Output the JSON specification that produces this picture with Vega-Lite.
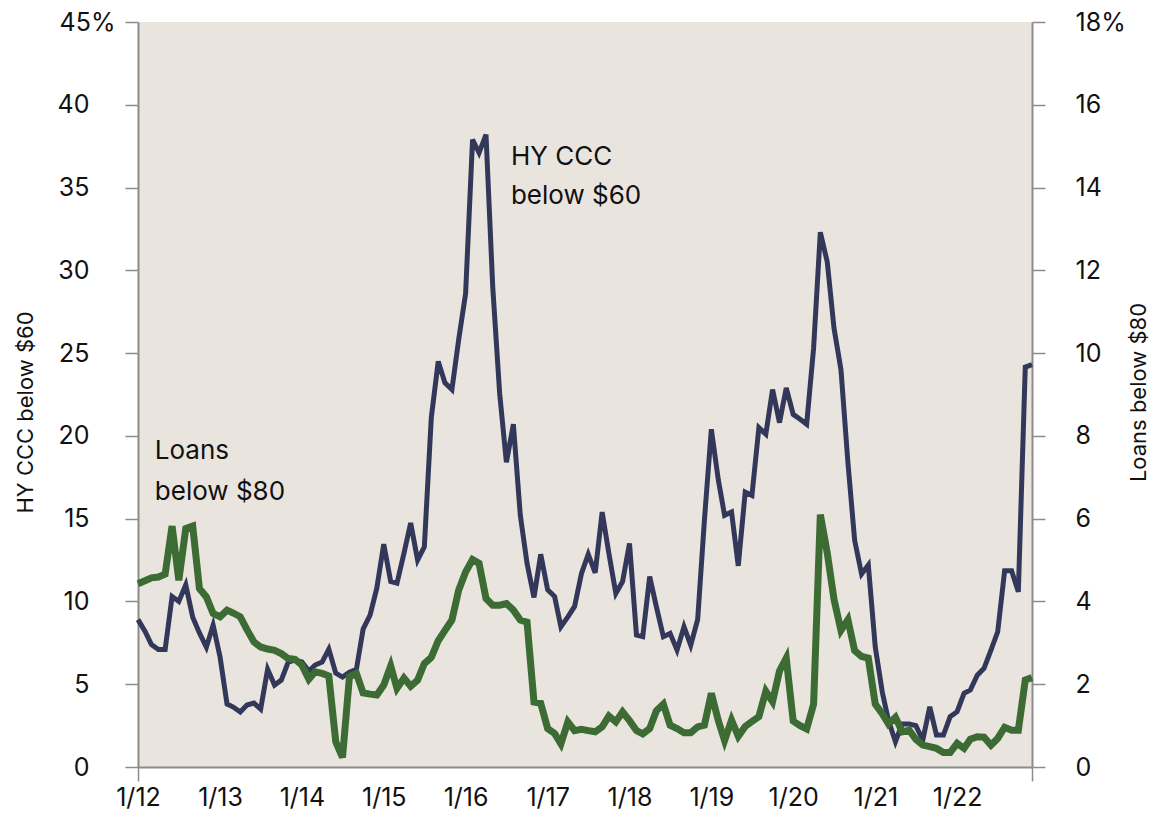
{
  "$schema": "https://vega.github.io/schema/vega-lite/v6.json",
  "width": 894,
  "height": 745,
  "autosize": {"type": "none"},
  "padding": {"left": 138, "top": 22, "right": 121, "bottom": 53},
  "background": "white",
  "config": {
    "view": {"fill": "#e9e5de", "stroke": null},
    "font": "Inter",
    "axis": {"grid": false, "domainColor": "#8c8c8c", "domainWidth": 2, "tickColor": "#8c8c8c", "tickWidth": 1.5, "labelColor": "#111111", "labelFont": "Inter", "labelFontSize": 25, "titleFont": "Inter", "titleColor": "#111111", "titleFontWeight": "normal", "titleFontSize": 22}
  },
  "datasets": {
    "series": [
      {"date": "2012-01-01", "hy": 8.9, "loans": 4.43},
      {"date": "2012-02-01", "hy": 8.2, "loans": 4.5},
      {"date": "2012-03-01", "hy": 7.4, "loans": 4.57},
      {"date": "2012-04-01", "hy": 7.1, "loans": 4.59},
      {"date": "2012-05-01", "hy": 7.1, "loans": 4.66},
      {"date": "2012-06-01", "hy": 10.3, "loans": 5.82},
      {"date": "2012-07-01", "hy": 10.0, "loans": 4.51},
      {"date": "2012-08-01", "hy": 11.0, "loans": 5.76},
      {"date": "2012-09-01", "hy": 9.05, "loans": 5.82},
      {"date": "2012-10-01", "hy": 8.1, "loans": 4.31},
      {"date": "2012-11-01", "hy": 7.24, "loans": 4.11},
      {"date": "2012-12-01", "hy": 8.57, "loans": 3.71},
      {"date": "2013-01-01", "hy": 6.64, "loans": 3.63},
      {"date": "2013-02-01", "hy": 3.8, "loans": 3.79},
      {"date": "2013-03-01", "hy": 3.62, "loans": 3.72},
      {"date": "2013-04-01", "hy": 3.32, "loans": 3.63},
      {"date": "2013-05-01", "hy": 3.74, "loans": 3.32},
      {"date": "2013-06-01", "hy": 3.86, "loans": 3.02},
      {"date": "2013-07-01", "hy": 3.5, "loans": 2.9},
      {"date": "2013-08-01", "hy": 5.9, "loans": 2.85},
      {"date": "2013-09-01", "hy": 4.95, "loans": 2.82},
      {"date": "2013-10-01", "hy": 5.25, "loans": 2.74},
      {"date": "2013-11-01", "hy": 6.34, "loans": 2.62},
      {"date": "2013-12-01", "hy": 6.46, "loans": 2.6},
      {"date": "2014-01-01", "hy": 6.34, "loans": 2.46},
      {"date": "2014-02-01", "hy": 5.8, "loans": 2.12},
      {"date": "2014-03-01", "hy": 6.16, "loans": 2.3},
      {"date": "2014-04-01", "hy": 6.34, "loans": 2.26},
      {"date": "2014-05-01", "hy": 7.12, "loans": 2.2},
      {"date": "2014-06-01", "hy": 5.67, "loans": 0.61},
      {"date": "2014-07-01", "hy": 5.43, "loans": 0.23},
      {"date": "2014-08-01", "hy": 5.73, "loans": 2.18},
      {"date": "2014-09-01", "hy": 5.9, "loans": 2.26},
      {"date": "2014-10-01", "hy": 8.33, "loans": 1.79},
      {"date": "2014-11-01", "hy": 9.17, "loans": 1.76},
      {"date": "2014-12-01", "hy": 10.8, "loans": 1.74},
      {"date": "2015-01-01", "hy": 13.46, "loans": 1.98},
      {"date": "2015-02-01", "hy": 11.2, "loans": 2.44},
      {"date": "2015-03-01", "hy": 11.1, "loans": 1.9},
      {"date": "2015-04-01", "hy": 12.9, "loans": 2.15},
      {"date": "2015-05-01", "hy": 14.74, "loans": 1.95},
      {"date": "2015-06-01", "hy": 12.5, "loans": 2.1},
      {"date": "2015-07-01", "hy": 13.3, "loans": 2.5},
      {"date": "2015-08-01", "hy": 21.1, "loans": 2.65},
      {"date": "2015-09-01", "hy": 24.5, "loans": 3.05},
      {"date": "2015-10-01", "hy": 23.2, "loans": 3.3},
      {"date": "2015-11-01", "hy": 22.8, "loans": 3.55},
      {"date": "2015-12-01", "hy": 25.8, "loans": 4.27},
      {"date": "2016-01-01", "hy": 28.6, "loans": 4.71},
      {"date": "2016-02-01", "hy": 37.9, "loans": 5.01},
      {"date": "2016-03-01", "hy": 37.1, "loans": 4.92},
      {"date": "2016-04-01", "hy": 38.2, "loans": 4.07},
      {"date": "2016-05-01", "hy": 29.0, "loans": 3.91},
      {"date": "2016-06-01", "hy": 22.55, "loans": 3.91},
      {"date": "2016-07-01", "hy": 18.4, "loans": 3.95},
      {"date": "2016-08-01", "hy": 20.7, "loans": 3.79},
      {"date": "2016-09-01", "hy": 15.2, "loans": 3.55},
      {"date": "2016-10-01", "hy": 12.3, "loans": 3.5},
      {"date": "2016-11-01", "hy": 10.24, "loans": 1.57},
      {"date": "2016-12-01", "hy": 12.85, "loans": 1.54},
      {"date": "2017-01-01", "hy": 10.7, "loans": 0.93},
      {"date": "2017-02-01", "hy": 10.3, "loans": 0.81},
      {"date": "2017-03-01", "hy": 8.47, "loans": 0.56},
      {"date": "2017-04-01", "hy": 9.07, "loans": 1.09},
      {"date": "2017-05-01", "hy": 9.7, "loans": 0.88},
      {"date": "2017-06-01", "hy": 11.7, "loans": 0.91},
      {"date": "2017-07-01", "hy": 12.85, "loans": 0.88},
      {"date": "2017-08-01", "hy": 11.73, "loans": 0.85},
      {"date": "2017-09-01", "hy": 15.4, "loans": 0.97},
      {"date": "2017-10-01", "hy": 12.9, "loans": 1.23},
      {"date": "2017-11-01", "hy": 10.48, "loans": 1.09},
      {"date": "2017-12-01", "hy": 11.2, "loans": 1.33},
      {"date": "2018-01-01", "hy": 13.5, "loans": 1.12},
      {"date": "2018-02-01", "hy": 7.97, "loans": 0.88},
      {"date": "2018-03-01", "hy": 7.87, "loans": 0.8},
      {"date": "2018-04-01", "hy": 11.5, "loans": 0.93},
      {"date": "2018-05-01", "hy": 9.67, "loans": 1.36},
      {"date": "2018-06-01", "hy": 7.87, "loans": 1.52},
      {"date": "2018-07-01", "hy": 8.07, "loans": 1.01},
      {"date": "2018-08-01", "hy": 7.06, "loans": 0.93},
      {"date": "2018-09-01", "hy": 8.47, "loans": 0.83},
      {"date": "2018-10-01", "hy": 7.36, "loans": 0.83},
      {"date": "2018-11-01", "hy": 8.91, "loans": 0.97},
      {"date": "2018-12-01", "hy": 14.9, "loans": 1.01},
      {"date": "2019-01-01", "hy": 20.4, "loans": 1.78},
      {"date": "2019-02-01", "hy": 17.35, "loans": 1.12},
      {"date": "2019-03-01", "hy": 15.2, "loans": 0.64},
      {"date": "2019-04-01", "hy": 15.4, "loans": 1.13},
      {"date": "2019-05-01", "hy": 12.15, "loans": 0.74},
      {"date": "2019-06-01", "hy": 16.6, "loans": 0.98},
      {"date": "2019-07-01", "hy": 16.4, "loans": 1.1},
      {"date": "2019-08-01", "hy": 20.5, "loans": 1.22},
      {"date": "2019-09-01", "hy": 20.1, "loans": 1.83},
      {"date": "2019-10-01", "hy": 22.8, "loans": 1.58},
      {"date": "2019-11-01", "hy": 20.8, "loans": 2.32},
      {"date": "2019-12-01", "hy": 22.9, "loans": 2.63},
      {"date": "2020-01-01", "hy": 21.3, "loans": 1.11},
      {"date": "2020-02-01", "hy": 21.0, "loans": 1.0},
      {"date": "2020-03-01", "hy": 20.7, "loans": 0.92},
      {"date": "2020-04-01", "hy": 25.3, "loans": 1.52},
      {"date": "2020-05-01", "hy": 32.3, "loans": 6.1},
      {"date": "2020-06-01", "hy": 30.5, "loans": 5.17},
      {"date": "2020-07-01", "hy": 26.5, "loans": 4.05},
      {"date": "2020-08-01", "hy": 24.0, "loans": 3.3},
      {"date": "2020-09-01", "hy": 18.4, "loans": 3.56},
      {"date": "2020-10-01", "hy": 13.7, "loans": 2.81},
      {"date": "2020-11-01", "hy": 11.66, "loans": 2.67},
      {"date": "2020-12-01", "hy": 12.2, "loans": 2.63},
      {"date": "2021-01-01", "hy": 7.25, "loans": 1.52},
      {"date": "2021-02-01", "hy": 4.55, "loans": 1.29},
      {"date": "2021-03-01", "hy": 2.8, "loans": 1.04},
      {"date": "2021-04-01", "hy": 1.53, "loans": 1.2},
      {"date": "2021-05-01", "hy": 2.6, "loans": 0.85},
      {"date": "2021-06-01", "hy": 2.6, "loans": 0.89},
      {"date": "2021-07-01", "hy": 2.5, "loans": 0.67},
      {"date": "2021-08-01", "hy": 1.63, "loans": 0.53},
      {"date": "2021-09-01", "hy": 3.64, "loans": 0.49},
      {"date": "2021-10-01", "hy": 1.93, "loans": 0.45},
      {"date": "2021-11-01", "hy": 1.93, "loans": 0.35},
      {"date": "2021-12-01", "hy": 3.04, "loans": 0.35},
      {"date": "2022-01-01", "hy": 3.34, "loans": 0.57},
      {"date": "2022-02-01", "hy": 4.45, "loans": 0.45},
      {"date": "2022-03-01", "hy": 4.65, "loans": 0.67},
      {"date": "2022-04-01", "hy": 5.55, "loans": 0.73},
      {"date": "2022-05-01", "hy": 5.96, "loans": 0.72},
      {"date": "2022-06-01", "hy": 7.06, "loans": 0.53},
      {"date": "2022-07-01", "hy": 8.17, "loans": 0.69},
      {"date": "2022-08-01", "hy": 11.85, "loans": 0.96},
      {"date": "2022-09-01", "hy": 11.85, "loans": 0.89},
      {"date": "2022-10-01", "hy": 10.58, "loans": 0.89},
      {"date": "2022-11-01", "hy": 24.16, "loans": 2.1},
      {"date": "2022-12-01", "hy": 24.3, "loans": 2.16}
    ],
    "notes": [
      {"date": "2016-07-21", "v": 36.84, "t": "HY CCC"},
      {"date": "2016-07-21", "v": 34.49, "t": "below $60"},
      {"date": "2012-03-16", "v": 19.09, "t": "Loans"},
      {"date": "2012-03-16", "v": 16.61, "t": "below $80"}
    ]
  },
  "encoding": {
    "x": {
      "field": "date",
      "type": "temporal",
      "title": null,
      "scale": {"type": "utc", "domain": [{"year": 2012, "month": 1, "date": 1, "utc": true}, {"year": 2022, "month": 12, "date": 1, "utc": true}]},
      "axis": {
        "values": [
          {"year": 2012, "month": 1, "date": 1, "utc": true},
          {"year": 2013, "month": 1, "date": 1, "utc": true},
          {"year": 2014, "month": 1, "date": 1, "utc": true},
          {"year": 2015, "month": 1, "date": 1, "utc": true},
          {"year": 2016, "month": 1, "date": 1, "utc": true},
          {"year": 2017, "month": 1, "date": 1, "utc": true},
          {"year": 2018, "month": 1, "date": 1, "utc": true},
          {"year": 2019, "month": 1, "date": 1, "utc": true},
          {"year": 2020, "month": 1, "date": 1, "utc": true},
          {"year": 2021, "month": 1, "date": 1, "utc": true},
          {"year": 2022, "month": 1, "date": 1, "utc": true},
          {"year": 2022, "month": 12, "date": 1, "utc": true}
        ],
        "labelExpr": "utcmonth(datum.value) == 0 ? '1/' + utcFormat(datum.value, '%y') : ''",
        "tickSize": 14,
        "tickOpacity": {"condition": {"test": "utcyear(datum.value) == 2012 || utcmonth(datum.value) == 11", "value": 1}, "value": 0},
        "labelPadding": 4,
        "labelFlush": false,
        "labelOverlap": false
      }
    }
  },
  "layer": [
    {
      "layer": [
        {
          "data": {"name": "series"},
          "mark": {"type": "line", "color": "#33385a", "strokeWidth": 5, "strokeJoin": "miter"},
          "encoding": {
            "y": {
              "field": "hy",
              "type": "quantitative",
              "scale": {"domain": [0, 45], "nice": false, "zero": true},
              "axis": {
                "values": [0, 5, 10, 15, 20, 25, 30, 35, 40, 45],
                "labelExpr": "datum.value == 45 ? '45%' : datum.label",
                "tickSize": 13,
                "labelPadding": {"condition": {"test": "datum.value == 45", "value": 10}, "value": 36},
                "title": "HY CCC below $60",
                "titleAngle": 270,
                "titleX": -113,
                "titleY": 390,
                "titleAlign": "center",
                "titleBaseline": "middle",
                "labelFlush": false,
                "labelOverlap": false
              }
            }
          }
        },
        {
          "data": {"name": "notes"},
          "mark": {"type": "text", "align": "left", "baseline": "middle", "font": "Inter", "fontSize": 26, "color": "#111111"},
          "encoding": {
            "y": {"field": "v", "type": "quantitative"},
            "text": {"field": "t"}
          }
        }
      ]
    },
    {
      "data": {"name": "series"},
      "mark": {"type": "line", "color": "#3c6b34", "strokeWidth": 7, "strokeJoin": "miter"},
      "encoding": {
        "y": {
          "field": "loans",
          "type": "quantitative",
          "scale": {"domain": [0, 18], "nice": false, "zero": true},
          "axis": {
            "orient": "right",
            "values": [0, 2, 4, 6, 8, 10, 12, 14, 16, 18],
            "labelExpr": "datum.value == 18 ? '18%' : datum.label",
            "tickSize": 13,
            "labelPadding": 30,
            "title": "Loans below $80",
            "titleAngle": 270,
            "titleX": 106,
            "titleY": 370,
            "titleAlign": "center",
            "titleBaseline": "middle",
            "labelFlush": false,
            "labelOverlap": false
          }
        }
      }
    }
  ],
  "resolve": {"scale": {"y": "independent"}}
}
